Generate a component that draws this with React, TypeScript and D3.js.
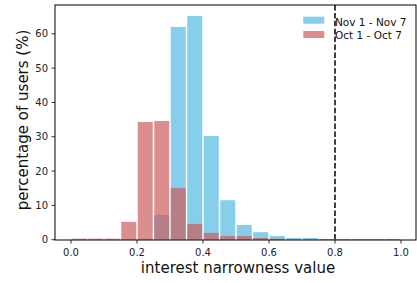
import React from "react";
import * as d3 from "d3";

const binStarts = [0, 0.05, 0.1, 0.15, 0.2, 0.25, 0.3, 0.35, 0.4, 0.45, 0.5, 0.55, 0.6, 0.65, 0.7, 0.75, 0.8, 0.85, 0.9, 0.95];
const novValues = [0.05, 0.05, 0.05, 0.2, 0.3, 7.2, 62.0, 65.2, 30.2, 11.5, 4.3, 2.2, 1.1, 0.5, 0.5, 0.15, 0.1, 0.1, 0.1, 0.1];
const octValues = [0.3, 0.3, 0.3, 5.2, 34.3, 34.6, 15.1, 4.6, 2.0, 1.1, 1.1, 0.5, 0.3, 0.1, 0.1, 0.2, 0.2, 0.2, 0.2, 0.2];
const xTicks = [0, 0.2, 0.4, 0.6, 0.8, 1.0];
const yTicks = [0, 10, 20, 30, 40, 50, 60];
const binWidth = 0.05;
const threshold = 0.8;
const seriesNames = ["Nov 1 - Nov 7", "Oct 1 - Oct 7"];

const W = 417, H = 283;
const L = 55, R = 416, T = 5, B = 240;
const FONT = "'DejaVu Sans', sans-serif";

export default function App() {
  const x = d3.scaleLinear().domain([-0.05, 1.05]).range([54.5, 417.5]);
  const y = d3.scaleLinear().domain([0, 68.3]).range([239.7, 5.3]);
  const blue = "#87ceeb";
  const red = "#cd5c5c";
  const bar = (v: number, i: number, color: string, op: number, key: string) => {
    const x0 = x(binStarts[i]) + 0.75;
    const x1 = x(binStarts[i] + binWidth) - 0.75;
    const y0 = y(v);
    return <rect key={key} x={x0} y={y0} width={x1 - x0} height={y(0) - y0} fill={color} fillOpacity={op} />;
  };
  return (
    <svg width={W} height={H} style={{ position: "absolute", left: 0, top: 0, background: "#fff" }} fontFamily={FONT}>
      <rect x={0} y={0} width={W} height={H} fill="#fff" />
      <g>{novValues.map((v, i) => bar(v, i, blue, 1, "n" + i))}</g>
      <g>{octValues.map((v, i) => bar(v, i, red, 0.7, "o" + i))}</g>
      <rect x={L} y={T} width={R - L} height={B - T} fill="none" stroke="#000" strokeWidth={1} />
      {xTicks.map((t) => (
        <g key={"x" + t}>
          <line x1={x(t)} x2={x(t)} y1={B} y2={B + 3.5} stroke="#000" strokeWidth={0.8} />
          <text x={x(t)} y={255.5} fontSize={10} textAnchor="middle" fill="#222">{d3.format(".1f")(t)}</text>
        </g>
      ))}
      {yTicks.map((t) => (
        <g key={"y" + t}>
          <line x1={L - 3.5} x2={L} y1={y(t)} y2={y(t)} stroke="#000" strokeWidth={0.8} />
          <text x={48} y={y(t) + 3.5} fontSize={10} textAnchor="end" fill="#222">{t}</text>
        </g>
      ))}
      <text x={238} y={273.3} fontSize={15} textAnchor="middle" fill="#111">interest narrowness value</text>
      <text transform={`translate(28.3,120) rotate(-90)`} fontSize={15} textAnchor="middle" fill="#111">percentage of users (%)</text>
      <g>
        <rect x={303.3} y={16.7} width={21} height={7} fill={blue} />
        <text x={335} y={26.3} fontSize={10.5} fill="#111">{seriesNames[0]}</text>
        <rect x={303.3} y={31} width={21} height={7} fill={red} fillOpacity={0.7} />
        <text x={335} y={38.5} fontSize={10.5} fill="#111">{seriesNames[1]}</text>
      </g>
      <line x1={x(threshold)} x2={x(threshold)} y1={T} y2={B} stroke="#000" strokeWidth={1.5} strokeDasharray="5.5,2.4" />
    </svg>
  );
}
